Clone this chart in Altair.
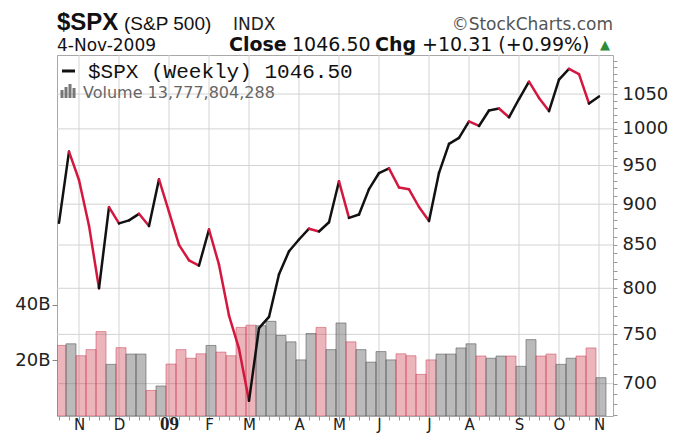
import altair as alt
import pandas as pd

# ---- data (weekly closes, Oct 24 2008 .. Nov 4 2009) ----
prev_close = 940.55
closes = [876.77, 968.75, 930.99, 873.29, 800.03, 896.24, 876.07, 879.73, 887.88, 872.80,
          931.80, 890.35, 850.12, 831.95, 825.88, 868.60, 826.84, 770.05, 735.09, 683.38,
          756.55, 768.54, 815.94, 842.50, 856.56, 869.60, 866.23, 877.52, 929.23, 882.88,
          887.00, 919.14, 940.09, 946.21, 921.23, 918.90, 896.42, 879.13, 940.38, 979.26,
          987.48, 1010.48, 1004.09, 1026.13, 1028.93, 1016.40, 1042.73, 1068.30, 1044.38, 1025.21,
          1071.49, 1087.68, 1079.60, 1036.19, 1046.50]
volumes_b = [25.4, 26.0, 21.7, 23.9, 30.4, 18.6, 24.6, 22.3, 22.3, 9.2,
             10.8, 18.7, 23.9, 20.8, 22.4, 25.4, 23.0, 21.7, 31.9, 32.7,
             32.5, 34.1, 29.0, 26.7, 20.2, 29.7, 31.9, 23.9, 33.5, 26.7,
             23.9, 19.4, 23.2, 20.2, 22.4, 21.7, 15.0, 20.2, 22.3, 22.3,
             24.5, 26.0, 21.6, 20.8, 21.6, 21.6, 17.9, 27.5, 21.6, 22.3,
             18.6, 20.8, 21.6, 24.5, 13.8]
month_idx = [2, 6, 11, 15, 19, 24, 28, 32, 37, 41, 46, 50, 54]
month_lbl = ["N", "D", "09", "F", "M", "A", "M", "J", "J", "A", "S", "O", "N"]
price_ticks = [700, 750, 800, 850, 900, 950, 1000, 1050]
price_minor = list(range(670, 1110, 10))
vol_ticks = [20, 40]

# ---- derived tables ----
n = len(closes)
prev = [prev_close] + closes[:-1]
dirs = ["up" if c >= p else "down" for c, p in zip(closes, prev)]
bars = pd.DataFrame({
    "idx": list(range(n)),
    "x0": [i - 0.3 for i in range(n)],
    "x1": [i + 0.7 for i in range(n)],
    "vol": volumes_b,
    "dir": dirs,
})
seg_rows = []
for i in range(1, n):
    d = "up" if closes[i] >= closes[i - 1] else "down"
    seg_rows.append({"seg": i, "idx": i - 1, "close": closes[i - 1], "dir": d})
    seg_rows.append({"seg": i, "idx": i, "close": closes[i], "dir": d})
segs = pd.DataFrame(seg_rows)
months = pd.DataFrame({"idx": month_idx, "lbl": month_lbl})
pgrid = pd.DataFrame({"p": price_ticks})
dummy = pd.DataFrame({"a": [0]})

W, H = 556, 361
GRID = "#d3d3d3"
xscale = alt.Scale(domain=[-0.2, 55.4], nice=False, zero=False)
pscale = alt.Scale(type="log", domain=[669, 1109], nice=False, zero=False)
vscale = alt.Scale(domain=[0, 130], nice=False, zero=False)

lbl_expr = ("indexof(%s, datum.value) >= 0 ? %s[indexof(%s, datum.value)] : ''"
            % (month_idx, ["%s" % s for s in month_lbl], month_idx))
xaxis = alt.Axis(
    values=list(range(n)), labelExpr=lbl_expr, labelOverlap=False, grid=False,
    domain=False, tickSize=4, tickColor="#999", labelPadding=9, title=None,
    labelFont={"condition": {"test": "datum.value == 11", "value": "Liberation Serif"}, "value": "DejaVu Sans"},
    labelFontWeight={"condition": {"test": "datum.value == 11", "value": "bold"}, "value": "normal"},
    labelFontSize={"condition": {"test": "datum.value == 11", "value": 19}, "value": 15},
    labelColor="#222", labelBaseline="alphabetic",
)
X = alt.X("idx:Q", scale=xscale, axis=xaxis)

mgrid = alt.Chart(months).mark_rule(color=GRID, strokeWidth=1).encode(x=X)
hgrid = alt.Chart(pgrid).mark_rule(color=GRID, strokeWidth=1).encode(
    y=alt.Y("p:Q", scale=pscale, axis=None))

vol_layer = alt.Chart(bars).mark_rect(strokeWidth=1, clip=True).encode(
    x=alt.X("x0:Q", scale=xscale, axis=xaxis),
    x2="x1:Q",
    y=alt.Y("vol:Q", scale=vscale, axis=alt.Axis(
        orient="left", values=vol_ticks, labelExpr="datum.value + 'B'", grid=False,
        domain=False, tickSize=5, tickColor="#888", labelPadding=2, title=None,
        labelFont="DejaVu Sans", labelFontSize=18, labelColor="#222")),
    y2=alt.datum(0),
    fill=alt.Fill("dir:N", scale=alt.Scale(domain=["up", "down"],
                  range=["rgba(110,110,110,0.48)", "rgba(205,60,80,0.38)"]), legend=None),
    stroke=alt.Stroke("dir:N", scale=alt.Scale(domain=["up", "down"],
                      range=["rgba(80,80,80,0.55)", "rgba(200,60,80,0.5)"]), legend=None),
)

line_layer = alt.Chart(segs).mark_line(strokeWidth=2.5, strokeCap="round", strokeJoin="round").encode(
    x=alt.X("idx:Q", scale=xscale, axis=xaxis),
    y=alt.Y("close:Q", scale=pscale, axis=alt.Axis(
        orient="right", values=price_minor,
        labelExpr="datum.value % 50 == 0 && datum.value >= 700 && datum.value <= 1050 ? datum.value : ''",
        labelOverlap=False, grid=False, domain=False, tickSize=4, tickColor="#999",
        labelPadding=5, title=None, labelFont="DejaVu Sans", labelFontSize=18,
        labelColor="#222", labelBaseline="middle")),
    detail="seg:N",
    color=alt.Color("dir:N", scale=alt.Scale(domain=["up", "down"], range=["#111111", "#d4173f"]), legend=None),
    order="idx:Q",
)


def txt(s, x, y, size, font="Liberation Sans", weight="normal", color="#111", align="left"):
    return alt.Chart(dummy).mark_text(
        text=s, fontSize=size, font=font, fontWeight=weight, color=color,
        align=align, baseline="alphabetic").encode(x=alt.value(x), y=alt.value(y))


# header positions are relative to the plot area's top-left corner
texts = [
    txt("$SPX", 0, -25, 24, weight="bold"),
    txt("(S&P 500)", 67, -25, 19),
    txt("INDX", 176, -25, 17, font="DejaVu Sans", color="#222"),
    txt("\u00a9StockCharts.com", 556, -25, 17, font="DejaVu Sans", color="#555", align="right"),
    txt("4-Nov-2009", 0, -4, 17, font="DejaVu Sans"),
    txt("Close", 172, -4, 19, font="DejaVu Sans", weight="bold"),
    txt("1046.50", 235, -4, 19, font="DejaVu Sans"),
    txt("Chg", 318, -4, 19, font="DejaVu Sans", weight="bold"),
    txt("+10.31 (+0.99%)", 365, -4, 19, font="DejaVu Sans"),
    txt("\u25b2", 543, -6, 13, font="DejaVu Sans", color="#2e8b3a"),
    txt("$SPX (Weekly) 1046.50", 31, 23, 21, font="Liberation Mono"),
    txt("Volume 13,777,804,288", 26, 43, 16, font="DejaVu Sans", color="#666"),
]
dash = alt.Chart(dummy).mark_rule(color="#111", strokeWidth=3).encode(
    x=alt.value(5), x2=alt.value(18), y=alt.value(16))
icon = [
    alt.Chart(dummy).mark_rule(color="#777", strokeWidth=3).encode(
        x=alt.value(xx), y=alt.value(yy), y2=alt.value(43))
    for xx, yy in [(5, 35), (9, 32), (13, 29), (17, 33)]
]

chart = alt.layer(
    mgrid, hgrid, vol_layer, line_layer, dash, *icon, *texts
).resolve_scale(
    y="independent", color="independent", fill="independent", stroke="independent"
).properties(
    width=W, height=H,
    padding={"left": 49, "top": 47, "right": 58, "bottom": 18},
    autosize=alt.AutoSizeParams(type="none"),
    background="white",
).configure_view(stroke="#a8a8a8", strokeWidth=1)

chart.save("out.html", embed_options={"renderer": "svg", "actions": False})
